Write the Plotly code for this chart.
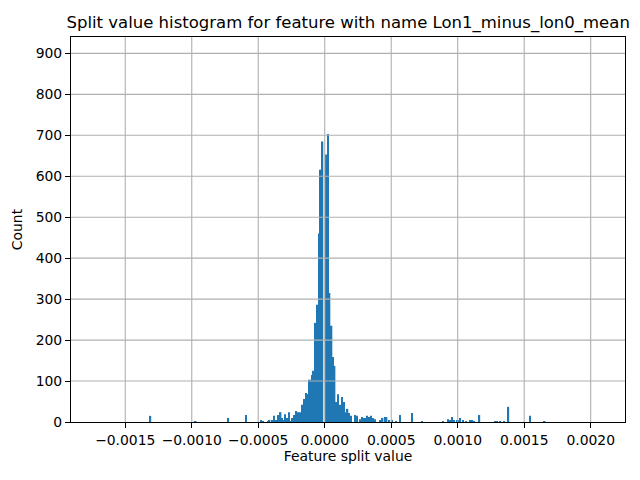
import plotly.graph_objects as go

# split values (x 1e-6) and how often each one was used
split_values = [
    -1311, -970, -725, -592, -479, -464, -426, -415, -396, -381, -366, -347,
    -332, -321, -311, -299, -283, -268, -257, -246, -231, -216, -201, -186,
    -171, -156, -141, -129, -118, -107, -96, -84, -69, -58, -43, -32, -17,
    10, 25, 36, 51, 62, 74, 85, 100, 115, 130, 145, 160, 171, 183, 198,
    228, 243, 265, 280, 292, 303, 318, 333, 348, 363, 378, 416, 435, 453,
    465, 484, 506, 536, 566, 656, 732, 890, 927, 942, 957, 972, 995, 1010,
    1017, 1040, 1063, 1093, 1108, 1123, 1163, 1281, 1296, 1319, 1349, 1381,
    1544, 1654,
]
counts = [
    15, 2, 10, 17, 5, 2, 2, 5, 5, 15, 5, 17,
    24, 10, 5, 19, 10, 24, 2, 10, 17, 27, 24, 24,
    42, 56, 71, 68, 103, 103, 115, 125, 242, 286, 460, 616, 685,
    653, 703, 315, 235, 159, 137, 49, 68, 42, 61, 49, 24, 32, 22, 15,
    17, 15, 7, 12, 10, 10, 15, 12, 15, 10, 7, 5, 10, 12,
    12, 5, 5, 2, 17, 22, 2, 2, 7, 5, 12, 5, 5, 5,
    10, 5, 2, 5, 5, 2, 17, 2, 2, 2, 2, 37,
    15, 2,
]
bin_width = 1.5e-5

x_ticks = [-0.0015, -0.0010, -0.0005, 0.0, 0.0005, 0.0010, 0.0015, 0.0020]
x_labels = ["\u22120.0015", "\u22120.0010", "\u22120.0005", "0.0000",
            "0.0005", "0.0010", "0.0015", "0.0020"]
y_ticks = [0, 100, 200, 300, 400, 500, 600, 700, 800, 900]

x = [v * 1e-6 for v in split_values]

fig = go.Figure(go.Bar(
    x=x, y=counts, width=0.8 * bin_width,
    marker=dict(color="#1f77b4", line=dict(width=0)),
))

# matplotlib draws the grid on top of the bars
grid = dict(color="#b0b0b0", width=1.1)
shapes = []
for t in x_ticks:
    shapes.append(dict(type="line", xref="x", yref="paper", x0=t, x1=t,
                       y0=0, y1=1, line=grid, layer="above"))
for t in y_ticks[1:]:
    shapes.append(dict(type="line", xref="paper", yref="y", x0=0, x1=1,
                       y0=t, y1=t, line=grid, layer="above"))

axis_style = dict(
    showline=True, linecolor="black", linewidth=1.1, mirror=True,
    ticks="outside", ticklen=5, tickwidth=1.1, tickcolor="black",
    showgrid=False, zeroline=False,
    tickfont=dict(size=13.9, color="black"),
)

fig.update_layout(
    width=640, height=480,
    margin=dict(l=71, r=15, t=37, b=58),
    plot_bgcolor="white", paper_bgcolor="white",
    font=dict(family="DejaVu Sans", color="black"),
    showlegend=False,
    shapes=shapes,
    title=dict(text="Split value histogram for feature with name Lon1_minus_lon0_mean",
               font=dict(size=16.5), x=0.544, xanchor="center",
               y=1 - 22 / 480, yanchor="middle"),
    xaxis=dict(axis_style, range=[-0.001908, 0.002258],
               tickvals=x_ticks, ticktext=x_labels,
               title=dict(text="Feature split value", font=dict(size=13.9), standoff=4)),
    yaxis=dict(axis_style, range=[0, 940], tickvals=y_ticks,
               title=dict(text="Count", font=dict(size=13.9), standoff=9)),
)

# drop the page's default body margin so the figure sits at 0,0
fig.write_html("out.html", config={"displayModeBar": False},
               post_script="document.body.style.margin = '0';")
